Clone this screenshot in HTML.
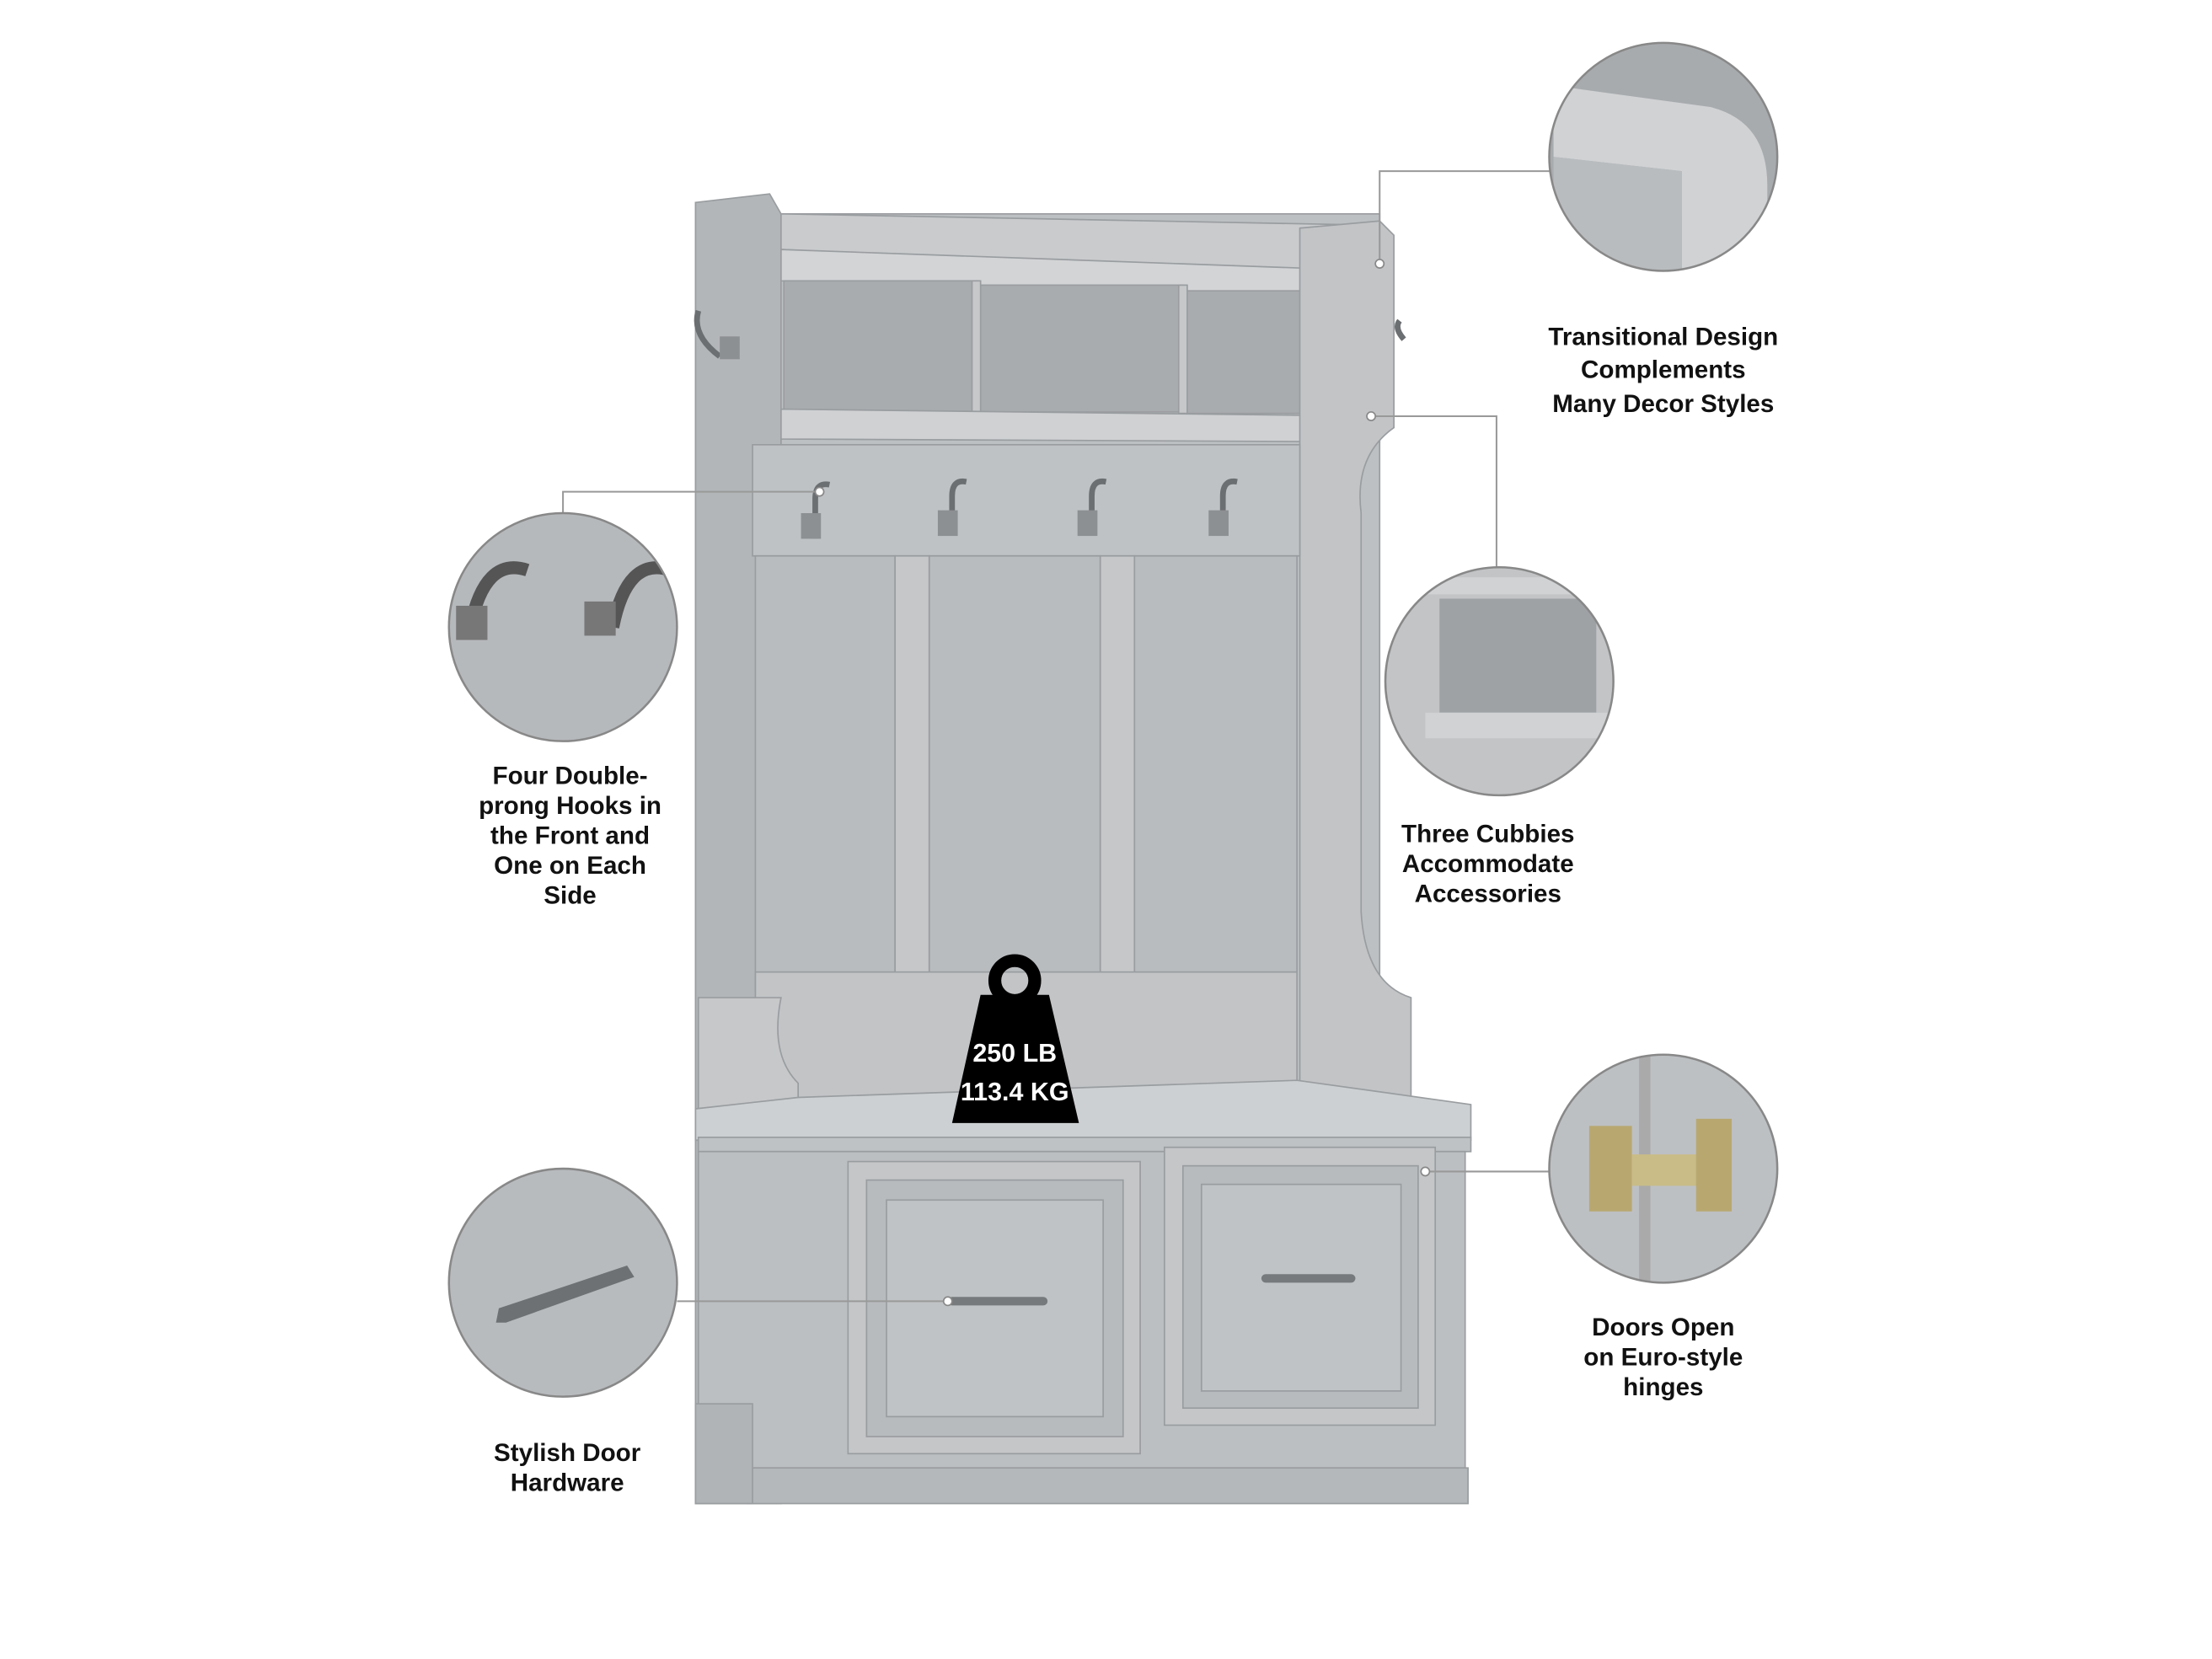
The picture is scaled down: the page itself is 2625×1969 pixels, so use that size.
<!DOCTYPE html>
<html><head><meta charset="utf-8"><style>
html,body{margin:0;padding:0;background:#fff;width:2625px;height:1969px;overflow:hidden}
svg{display:block}
text{font-family:"Liberation Sans",sans-serif;font-weight:bold;fill:#111}
</style></head><body>
<svg width="2625" height="1969" viewBox="0 0 1552 1164" xmlns="http://www.w3.org/2000/svg">
<defs>
<clipPath id="c1"><circle cx="1167" cy="110" r="80"/></clipPath>
<clipPath id="c2"><circle cx="395" cy="440" r="80"/></clipPath>
<clipPath id="c3"><circle cx="1052" cy="478" r="80"/></clipPath>
<clipPath id="c4"><circle cx="395" cy="900" r="80"/></clipPath>
<clipPath id="c5"><circle cx="1167" cy="820" r="80"/></clipPath>
</defs>
<rect width="1552" height="1164" fill="#fff"/>
<!-- cabinet -->
<g stroke="#9a9da0" stroke-width="1">
<!-- left side panel -->
<path d="M488,142 L540,136 L548,150 L548,1055 L488,1055 Z" fill="#b3b6b9"/>
<!-- hutch back -->
<rect x="548" y="150" width="420" height="630" fill="#bdc0c3"/>
<!-- top shelf -->
<path d="M548,150 L968,158 L968,195 L548,175 Z" fill="#c9cbcd"/>
<path d="M548,175 L968,190 L968,210 L548,197 Z" fill="#d2d4d6"/>
<!-- cubbies -->
<rect x="550" y="197" width="135" height="92" fill="#a9acaf"/>
<rect x="685" y="200" width="145" height="89" fill="#a9acaf"/>
<rect x="830" y="204" width="82" height="86" fill="#a9acaf"/>
<rect x="682" y="197" width="6" height="92" fill="#c6c8ca"/>
<rect x="827" y="200" width="6" height="90" fill="#c6c8ca"/>
<path d="M548,287 L968,292 L968,310 L548,308 Z" fill="#cfd1d3"/>
<!-- right side panel -->
<path d="M912,160 L968,155 L978,165 L978,300 Q950,320 955,360 L955,640 Q958,690 990,700 L990,780 L912,780 Z" fill="#c2c4c6"/>
<!-- hook rail -->
<rect x="528" y="312" width="384" height="78" fill="#bfc2c5"/>
<!-- back panels -->
<rect x="530" y="390" width="98" height="305" fill="#b9bcbf"/>
<rect x="628" y="390" width="24" height="305" fill="#c5c7c9"/>
<rect x="652" y="390" width="120" height="305" fill="#b9bcbf"/>
<rect x="772" y="390" width="24" height="305" fill="#c5c7c9"/>
<rect x="796" y="390" width="114" height="305" fill="#b9bcbf"/>
<rect x="530" y="682" width="380" height="90" fill="#c2c4c6"/>
<!-- left arm -->
<path d="M548,700 Q540,740 560,760 L560,790 L490,790 L490,700 Z" fill="#c6c8ca"/>
<!-- seat -->
<path d="M488,778 L560,770 L910,758 L1032,775 L1032,800 L488,800 Z" fill="#cdd0d2"/>
<rect x="490" y="798" width="542" height="10" fill="#bfc2c4"/>
<!-- base -->
<rect x="490" y="808" width="538" height="222" fill="#bcbfc2"/>
<rect x="524" y="1030" width="506" height="25" fill="#b5b8bb"/>
<rect x="488" y="985" width="40" height="70" fill="#b1b4b7"/>
<!-- drawers -->
<rect x="595" y="815" width="205" height="205" fill="#c4c6c8"/>
<rect x="608" y="828" width="180" height="180" fill="#b8bbbe"/>
<rect x="622" y="842" width="152" height="152" fill="#c0c3c5"/>
<rect x="817" y="805" width="190" height="195" fill="#c4c6c8"/>
<rect x="830" y="818" width="165" height="170" fill="#b8bbbe"/>
<rect x="843" y="831" width="140" height="145" fill="#c0c3c5"/>
</g>
<!-- handles -->
<rect x="665" y="910" width="70" height="6" rx="3" fill="#777a7d"/>
<rect x="885" y="894" width="66" height="6" rx="3" fill="#777a7d"/>
<!-- hooks -->
<g fill="none" stroke="#6c6f72" stroke-width="4">
<path d="M572,378 L572,350 Q572,338 582,340"/><path d="M668,375 L668,348 Q668,336 678,338"/>
<path d="M766,375 L766,348 Q766,336 776,338"/><path d="M858,375 L858,348 Q858,336 868,338"/>
<path d="M505,250 Q485,235 490,218"/><path d="M985,238 Q978,230 982,225"/>
</g>
<g fill="#8d9093"><rect x="562" y="360" width="14" height="18"/><rect x="658" y="358" width="14" height="18"/><rect x="756" y="358" width="14" height="18"/><rect x="848" y="358" width="14" height="18"/><rect x="505" y="236" width="14" height="16"/></g>
<!-- weight -->
<circle cx="712" cy="688" r="14" fill="none" stroke="#000" stroke-width="9"/>
<path d="M688,698 L736,698 L757,788 L668,788 Z" fill="#000"/>
<text x="712" y="745" text-anchor="middle" font-size="18" style="fill:#fff">250 LB</text>
<text x="712" y="772" text-anchor="middle" font-size="18" style="fill:#fff">113.4 KG</text>
<!-- connectors -->
<g fill="none" stroke="#999" stroke-width="1.2">
<path d="M968,185 L968,120 L1088,120"/>
<path d="M962,292 L1050,292 L1050,400"/>
<path d="M395,360 L395,345 L575,345"/>
<path d="M475,913 L665,913"/>
<path d="M1000,822 L1090,822"/>
</g>
<g fill="#fff" stroke="#888"><circle cx="968" cy="185" r="3"/><circle cx="962" cy="292" r="3"/><circle cx="575" cy="345" r="3"/><circle cx="665" cy="913" r="3"/><circle cx="1000" cy="822" r="3"/></g>
<!-- circles -->
<g clip-path="url(#c1)"><rect x="1080" y="20" width="180" height="180" fill="#a8abae"/><path d="M1090,60 L1200,75 Q1240,85 1240,130 L1240,200 L1180,200 L1180,120 L1090,110 Z" fill="#d0d2d4"/><path d="M1090,110 L1180,120 L1180,200 L1090,200Z" fill="#b9bcbf"/></g>
<circle cx="1167" cy="110" r="80" fill="none" stroke="#888" stroke-width="1.5"/>
<g clip-path="url(#c2)"><rect x="310" y="355" width="180" height="180" fill="#b6b9bc"/><path d="M330,440 Q340,390 370,400" fill="none" stroke="#555" stroke-width="9"/><path d="M430,440 Q440,390 470,400" fill="none" stroke="#555" stroke-width="9"/><rect x="320" y="425" width="22" height="24" fill="#777"/><rect x="410" y="422" width="22" height="24" fill="#777"/></g>
<circle cx="395" cy="440" r="80" fill="none" stroke="#888" stroke-width="1.5"/>
<g clip-path="url(#c3)"><rect x="965" y="390" width="180" height="180" fill="#c2c4c6"/><rect x="1010" y="420" width="110" height="80" fill="#9fa2a5"/><rect x="1000" y="500" width="140" height="18" fill="#d0d2d4"/><rect x="1000" y="405" width="140" height="12" fill="#d0d2d4"/></g>
<circle cx="1052" cy="478" r="80" fill="none" stroke="#888" stroke-width="1.5"/>
<g clip-path="url(#c4)"><rect x="310" y="815" width="180" height="180" fill="#b8bbbe"/><path d="M348,928 L350,918 L440,888 L445,896 L355,928Z" fill="#6e7174"/></g>
<circle cx="395" cy="900" r="80" fill="none" stroke="#888" stroke-width="1.5"/>
<g clip-path="url(#c5)"><rect x="1080" y="735" width="180" height="180" fill="#bdc0c3"/><rect x="1150" y="740" width="8" height="170" fill="#aaa"/><rect x="1115" y="790" width="30" height="60" fill="#b8a870"/><rect x="1145" y="810" width="60" height="22" fill="#c9bc86"/><rect x="1190" y="785" width="25" height="65" fill="#b8a870"/></g>
<circle cx="1167" cy="820" r="80" fill="none" stroke="#888" stroke-width="1.5"/>
<!-- labels -->
<g font-size="17.5" text-anchor="middle">
<text x="1167" y="242">Transitional Design</text><text x="1167" y="265">Complements</text><text x="1167" y="289">Many Decor Styles</text>
<text x="400" y="550">Four Double-</text><text x="400" y="571">prong Hooks in</text><text x="400" y="592">the Front and</text><text x="400" y="613">One on Each</text><text x="400" y="634">Side</text>
<text x="1044" y="591">Three Cubbies</text><text x="1044" y="612">Accommodate</text><text x="1044" y="633">Accessories</text>
<text x="1167" y="937">Doors Open</text><text x="1167" y="958">on Euro-style</text><text x="1167" y="979">hinges</text>
<text x="398" y="1025">Stylish Door</text><text x="398" y="1046">Hardware</text>
</g>
</svg>
</body></html>
